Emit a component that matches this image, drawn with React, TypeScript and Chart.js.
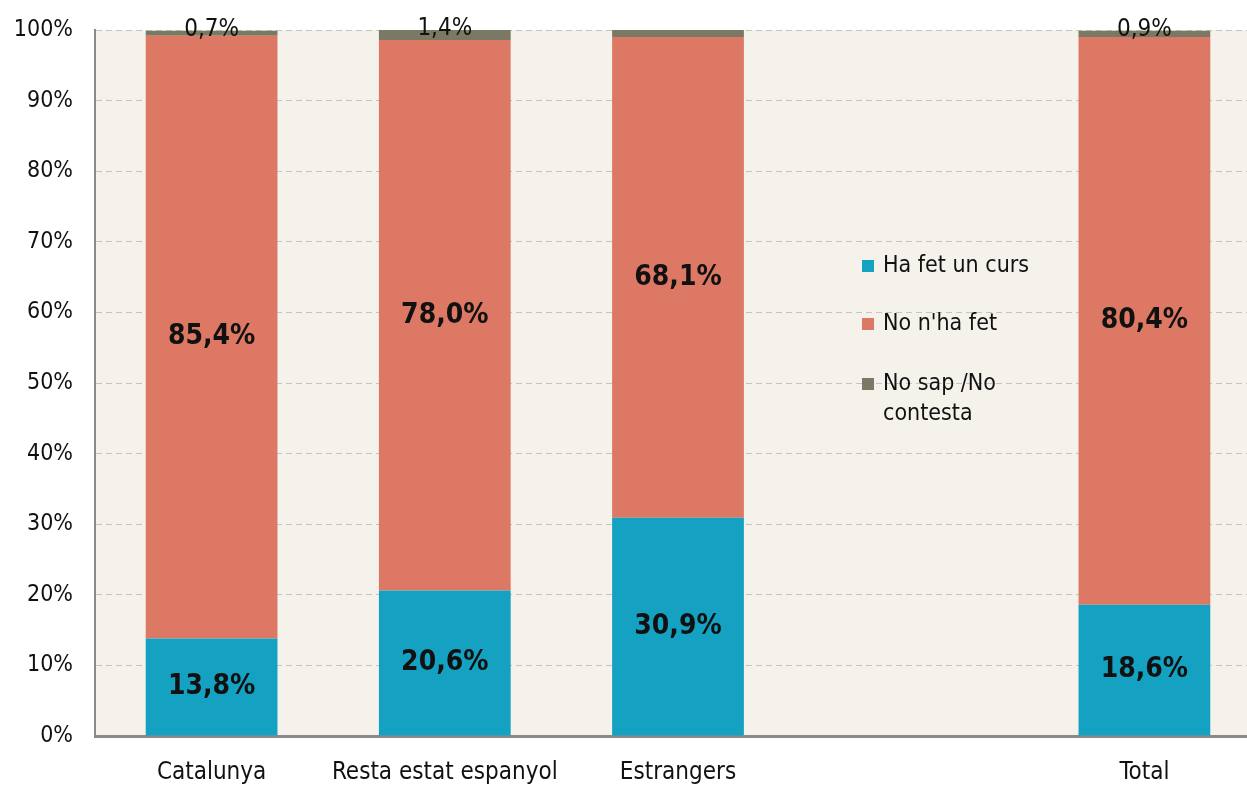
import React, { useEffect, useRef } from "react";
import { Chart, registerables } from "chart.js";

Chart.register(...registerables);

const categories = ["Catalunya", "Resta estat espanyol", "Estrangers", "", "Total"];
const haFetCurs = [13.8, 20.6, 30.9, null, 18.6];
const noHaFet = [85.4, 78.0, 68.1, null, 80.4];
const noSap = [0.7, 1.4, 1.0, null, 0.9];
const noSapShown = [true, true, false, false, true];
const yTicks = [0, 10, 20, 30, 40, 50, 60, 70, 80, 90, 100];

const seriesNames = ["Ha fet un curs", "No n'ha fet", "No sap /No\ncontesta"];
const colors = ["#15a1c1", "#dd7864", "#7b7863"];
const FONT = "'DejaVu Sans Condensed', 'DejaVu Sans', sans-serif";

const fmt = (v: number) => v.toFixed(1).replace(".", ",") + "%";

export default function App() {
  const ref = useRef<HTMLCanvasElement | null>(null);
  useEffect(() => {
    if (!ref.current) return;
    const bgPlugin = {
      id: "bg",
      beforeDraw(chart: any) {
        const { ctx, chartArea } = chart;
        ctx.save();
        ctx.fillStyle = "#f5f1eb";
        ctx.fillRect(chartArea.left, chartArea.top, chartArea.right - chartArea.left, chartArea.bottom - chartArea.top);
        ctx.restore();
      },
    };
    const labelPlugin = {
      id: "labels",
      afterDatasetsDraw(chart: any) {
        const { ctx } = chart;
        ctx.save();
        ctx.textAlign = "center";
        ctx.textBaseline = "middle";
        ctx.fillStyle = "#111";
        [0, 1].forEach((di) => {
          const meta = chart.getDatasetMeta(di);
          meta.data.forEach((el: any, i: number) => {
            const v = chart.data.datasets[di].data[i];
            if (v == null) return;
            ctx.font = `bold 28px ${FONT}`;
            ctx.fillText(fmt(v), el.x, (el.y + el.base) / 2);
          });
        });
        const meta2 = chart.getDatasetMeta(2);
        meta2.data.forEach((el: any, i: number) => {
          const v = chart.data.datasets[2].data[i];
          if (v == null || !noSapShown[i]) return;
          ctx.font = `24px ${FONT}`;
          ctx.fillText(fmt(v), el.x, el.y - 1);
        });
        const ys = [266, 324, 384];
        ctx.textAlign = "left";
        ctx.font = `23px ${FONT}`;
        seriesNames.forEach((name, k) => {
          ctx.fillStyle = colors[k];
          ctx.fillRect(862, ys[k] - 6, 12, 12);
          ctx.fillStyle = "#111";
          name.split("\n").forEach((line, j) => {
            ctx.fillText(line, 883, ys[k] + j * 30);
          });
        });
        ctx.restore();
      },
    };
    const chart = new Chart(ref.current, {
      type: "bar",
      data: {
        labels: categories,
        datasets: [
          { label: seriesNames[0], data: haFetCurs, backgroundColor: colors[0] },
          { label: seriesNames[1], data: noHaFet, backgroundColor: colors[1] },
          { label: seriesNames[2], data: noSap, backgroundColor: colors[2] },
        ],
      },
      options: {
        animation: false,
        responsive: false,
        maintainAspectRatio: false,
        layout: { padding: { top: 30, right: 29, left: 0, bottom: 0 } },
        plugins: { legend: { display: false }, tooltip: { enabled: false } },
        datasets: { bar: { barPercentage: 0.565, categoryPercentage: 1 } },
        scales: {
          x: {
            stacked: true,
            grid: { display: false, drawTicks: false },
            border: { display: true, color: "#8a8a8a", width: 3 },
            ticks: { font: { family: FONT, size: 24 }, color: "#111", padding: 22 },
            afterFit(scale: any) {
              scale.height = 51;
              scale.paddingLeft = 0;
              scale.paddingRight = 0;
            },
          },
          y: {
            stacked: true,
            min: 0,
            max: 100,
            afterBuildTicks(scale: any) {
              scale.ticks = yTicks.map((v) => ({ value: v }));
            },
            grid: { color: "#c4c4c4", lineWidth: 1, drawTicks: false },
            border: { display: true, color: "#8a8a8a", width: 2, dash: [6, 4] },
            ticks: {
              font: { family: FONT, size: 23 },
              color: "#111",
              padding: 22,
              callback: (v: any) => v + "%",
            },
            afterFit(scale: any) {
              scale.width = 95;
              scale.paddingTop = 0;
              scale.paddingBottom = 0;
            },
          },
        },
      },
      plugins: [bgPlugin, labelPlugin],
    });
    return () => chart.destroy();
  }, []);
  return (
    <div style={{ position: "fixed", left: 0, top: 0, width: 1247, height: 787, overflow: "hidden", background: "#fff" }}>
      <canvas ref={ref} width={1290} height={787} style={{ display: "block" }} />
    </div>
  );
}
